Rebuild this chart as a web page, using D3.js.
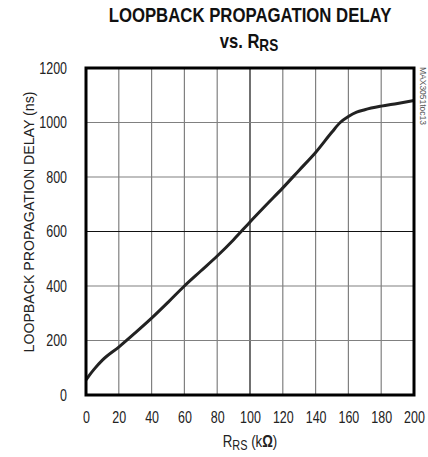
<!DOCTYPE html>
<html>
<head>
<meta charset="utf-8">
<title>Loopback Propagation Delay vs. RRS</title>
<script src="https://cdn.jsdelivr.net/npm/d3@7"></script>
<style>
    body { margin: 0; background: #fff; }
    .tick text { font-family: "Liberation Sans", Arial, sans-serif; font-size: 16px; fill: #222; }
    .lbl { font-family: "Liberation Sans", Arial, sans-serif; fill: #222; }
    .ttl { font-family: "Liberation Sans", Arial, sans-serif; fill: #111; font-weight: bold; }
</style>
</head>
<body>
<script>
    // values
    var rrs = [0, 2, 5, 10, 20, 30, 40, 50, 60, 70, 80, 90, 100, 110, 120, 130, 140, 150, 155, 160, 165, 170, 180, 190, 200];
    var delay = [55, 72, 95, 128, 176, 228, 282, 340, 400, 455, 510, 570, 635, 698, 760, 825, 890, 965, 1000, 1022, 1038, 1047, 1060, 1070, 1081];
    var xTicks = [0, 20, 40, 60, 80, 100, 120, 140, 160, 180, 200];
    var yTicks = [0, 200, 400, 600, 800, 1000, 1200];

    var width = 428, height = 457;
    var pLeft = 86, pRight = 414, pTop = 68, pBottom = 395;
    var narrow = 0.78;   // helvetica narrow look

    var svg = d3.select("body").append("svg")
        .attr("width", width)
        .attr("height", height);

    var x = d3.scaleLinear().domain([0, 200]).range([pLeft, pRight]);
    var y = d3.scaleLinear().domain([0, 1200]).range([pBottom, pTop]);

    // grid
    svg.append("g").selectAll("line")
        .data(xTicks.slice(1, -1))
        .enter().append("line")
        .attr("x1", function (d) { return x(d); })
        .attr("x2", function (d) { return x(d); })
        .attr("y1", pTop).attr("y2", pBottom)
        .attr("stroke", function (d) { return d === 100 ? "#111" : "#808080"; })
        .attr("stroke-width", 1.2);

    svg.append("g").selectAll("line")
        .data(yTicks.slice(1, -1))
        .enter().append("line")
        .attr("y1", function (d) { return y(d); })
        .attr("y2", function (d) { return y(d); })
        .attr("x1", pLeft).attr("x2", pRight)
        .attr("stroke", function (d) { return d === 600 ? "#111" : "#808080"; })
        .attr("stroke-width", 1.2);

    // curve
    var line = d3.line()
        .x(function (d, i) { return x(rrs[i]); })
        .y(function (d) { return y(d); })
        .curve(d3.curveMonotoneX);

    svg.append("path")
        .datum(delay)
        .attr("d", line)
        .attr("fill", "none")
        .attr("stroke", "#222")
        .attr("stroke-width", 3);

    // frame
    svg.append("rect")
        .attr("x", pLeft).attr("y", pTop)
        .attr("width", pRight - pLeft).attr("height", pBottom - pTop)
        .attr("fill", "none")
        .attr("stroke", "#000")
        .attr("stroke-width", 3);

    // axes (labels only)
    var xAxis = svg.append("g")
        .attr("transform", "translate(0," + pBottom + ")")
        .call(d3.axisBottom(x).tickValues(xTicks).tickFormat(d3.format("d")).tickSize(0).tickPadding(17));
    xAxis.select(".domain").remove();
    xAxis.selectAll(".tick text").attr("transform", "scale(" + narrow + ",1)");

    var yAxis = svg.append("g")
        .attr("transform", "translate(" + pLeft + ",0)")
        .call(d3.axisLeft(y).tickValues(yTicks).tickFormat(d3.format("d")).tickSize(0));
    yAxis.select(".domain").remove();
    yAxis.selectAll(".tick text")
        .attr("x", -19 / narrow)
        .attr("transform", "scale(" + narrow + ",1)");

    // titles
    svg.append("text")
        .attr("class", "ttl")
        .attr("transform", "translate(250,22) scale(0.86,1)")
        .attr("text-anchor", "middle")
        .style("font-size", "19.5px")
        .text("LOOPBACK PROPAGATION DELAY");

    var t2 = svg.append("text")
        .attr("class", "ttl")
        .attr("transform", "translate(249,48) scale(0.85,1)")
        .attr("text-anchor", "middle")
        .style("font-size", "19.5px");
    t2.append("tspan").text("vs. R");
    t2.append("tspan").attr("dy", 3).style("font-size", "16px").text("RS");

    var xl = svg.append("text")
        .attr("class", "lbl")
        .attr("transform", "translate(" + x(100) + ",447) scale(" + narrow + ",1)")
        .attr("text-anchor", "middle")
        .style("font-size", "17px");
    xl.append("tspan").text("R");
    xl.append("tspan").attr("dy", 3).style("font-size", "14px").text("RS");
    xl.append("tspan").attr("dy", -3).text(" (k");
    xl.append("tspan").style("font-weight", "bold").text("\u03A9");
    xl.append("tspan").text(")");

    svg.append("text")
        .attr("class", "lbl")
        .attr("transform", "translate(34,222) rotate(-90)")
        .attr("text-anchor", "middle")
        .attr("textLength", 261)
        .attr("lengthAdjust", "spacingAndGlyphs")
        .style("font-size", "15.5px")
        .text("LOOPBACK PROPAGATION DELAY (ns)");

    svg.append("text")
        .attr("class", "lbl")
        .attr("transform", "translate(420,67) rotate(90)")
        .attr("text-anchor", "start")
        .attr("textLength", 58)
        .attr("lengthAdjust", "spacingAndGlyphs")
        .style("font-size", "9px")
        .style("fill", "#555")
        .text("MAX3051toc13");
</script>
</body>
</html>
